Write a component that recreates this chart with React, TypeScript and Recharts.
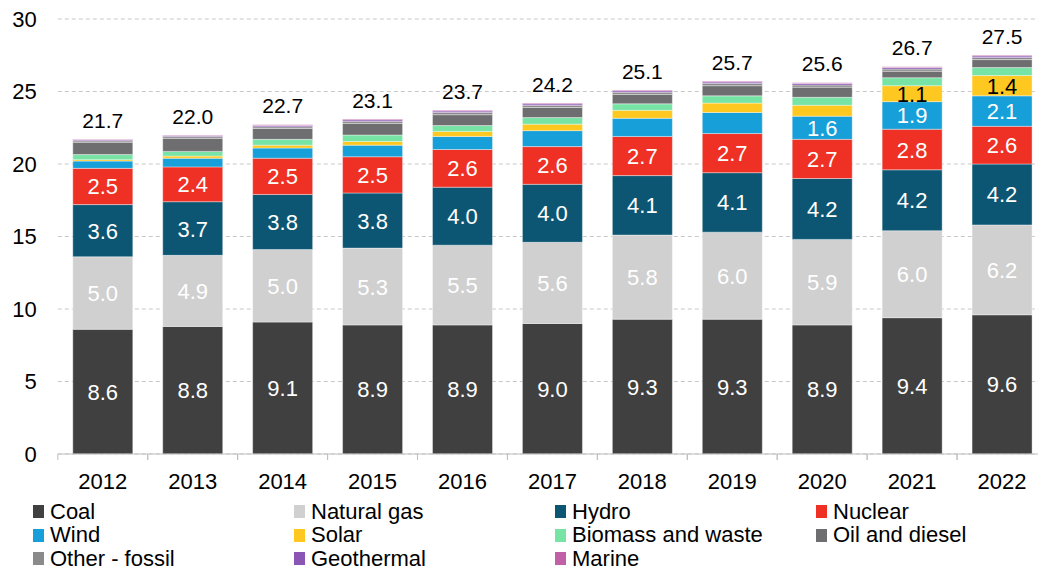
import { BarChart, Bar, XAxis, YAxis, CartesianGrid, LabelList } from "recharts";

const years = ["2012", "2013", "2014", "2015", "2016", "2017", "2018", "2019", "2020", "2021", "2022"];
const coal = [8.6, 8.8, 9.1, 8.9, 8.9, 9.0, 9.3, 9.3, 8.9, 9.4, 9.6];
const naturalGas = [5.0, 4.9, 5.0, 5.3, 5.5, 5.6, 5.8, 6.0, 5.9, 6.0, 6.2];
const hydro = [3.6, 3.7, 3.8, 3.8, 4.0, 4.0, 4.1, 4.1, 4.2, 4.2, 4.2];
const nuclear = [2.5, 2.4, 2.5, 2.5, 2.6, 2.6, 2.7, 2.7, 2.7, 2.8, 2.6];
const wind = [0.5, 0.6, 0.7, 0.8, 0.9, 1.1, 1.25, 1.45, 1.6, 1.9, 2.1];
const solar = [0.1, 0.15, 0.2, 0.25, 0.35, 0.45, 0.55, 0.65, 0.75, 1.1, 1.4];
const biomass = [0.35, 0.32, 0.4, 0.45, 0.4, 0.45, 0.45, 0.5, 0.55, 0.55, 0.55];
const oilDiesel = [0.85, 0.9, 0.75, 0.8, 0.75, 0.7, 0.65, 0.7, 0.7, 0.45, 0.55];
const otherFossil = [0.1, 0.12, 0.12, 0.15, 0.15, 0.15, 0.15, 0.15, 0.15, 0.15, 0.15];
const geothermal = [0.07, 0.08, 0.09, 0.1, 0.1, 0.1, 0.1, 0.1, 0.1, 0.1, 0.1];
const marine = [0.03, 0.03, 0.04, 0.05, 0.05, 0.05, 0.05, 0.05, 0.05, 0.05, 0.05];
const totals = [21.7, 22.0, 22.7, 23.1, 23.7, 24.2, 25.1, 25.7, 25.6, 26.7, 27.5];
const yTicks = [0, 5, 10, 15, 20, 25, 30];

const SERIES = [
  { key: "coal", name: "Coal", color: "#404040", values: coal },
  { key: "gas", name: "Natural gas", color: "#d0d0d0", values: naturalGas },
  { key: "hydro", name: "Hydro", color: "#0c5673", values: hydro },
  { key: "nuclear", name: "Nuclear", color: "#ee3124", values: nuclear },
  { key: "wind", name: "Wind", color: "#169fd9", values: wind },
  { key: "solar", name: "Solar", color: "#ffc820", values: solar },
  { key: "biomass", name: "Biomass and waste", color: "#77e3a4", values: biomass },
  { key: "oil", name: "Oil and diesel", color: "#6e6e70", values: oilDiesel },
  { key: "other", name: "Other - fossil", color: "#8a8a8a", values: otherFossil },
  { key: "geo", name: "Geothermal", color: "#8a55b5", values: geothermal },
  { key: "marine", name: "Marine", color: "#c060a6", values: marine },
];

// minimum value for an in-bar label per series
const LABEL_MIN: Record<string, number> = {
  coal: 0,
  gas: 0,
  hydro: 0,
  nuclear: 0,
  wind: 1.5,
  solar: 1.0,
};

const data = years.map((year, i) => {
  const row: any = { year, total: totals[i] };
  SERIES.forEach((s) => {
    row[s.key] = s.values[i];
  });
  return row;
});

const FONT = "'Liberation Sans', Arial, sans-serif";

const YearTick = (props: any) => {
  const { x, y, payload } = props;
  const half = payload && payload.offset ? payload.offset : 44.95;
  return (
    <g>
      <line x1={x - half} y1={y} x2={x - half} y2={y + 6} stroke="#bfbfbf" />
      <line x1={x + half} y1={y} x2={x + half} y2={y + 6} stroke="#bfbfbf" />
      <text x={x} y={y + 35} textAnchor="middle" fill="#000" fontSize={22} fontFamily={FONT}>
        {payload.value}
      </text>
    </g>
  );
};

const makeInnerLabel = (key: string, color: string) => (props: any) => {
  const { x, y, width, height, value } = props;
  if (value == null || value < (LABEL_MIN[key] ?? 99)) return null;
  return (
    <text
      x={x + width / 2}
      y={y + height / 2 + 8}
      textAnchor="middle"
      fill={color}
      fontSize={22}
      fontFamily={FONT}
    >
      {Number(value).toFixed(1)}
    </text>
  );
};

const TotalLabel = (props: any) => {
  const { x, y, width, index } = props;
  return (
    <text x={x + width / 2} y={y - 11.5} textAnchor="middle" fill="#000" fontSize={21} fontFamily={FONT}>
      {totals[index].toFixed(1)}
    </text>
  );
};

function ChartLegend() {
  return (
    <div
      style={{
        position: "absolute",
        left: 33,
        top: 500,
        display: "grid",
        gridTemplateColumns: "261px 261px 261px 220px",
        fontFamily: FONT,
        fontSize: 22,
        lineHeight: 1,
        color: "#000",
      }}
    >
      {SERIES.map((s) => (
        <div key={s.key} style={{ display: "flex", alignItems: "center", height: 23.5, whiteSpace: "nowrap" }}>
          <span style={{ width: 11, height: 13, background: s.color, display: "inline-block", marginRight: 6 }} />
          <span style={{ display: "inline-block", lineHeight: 1 }}>{s.name}</span>
        </div>
      ))}
    </div>
  );
}

export default function App() {
  return (
    <div
      style={{
        position: "fixed",
        left: 0,
        top: 0,
        width: 1038,
        height: 571,
        overflow: "hidden",
        background: "#fff",
      }}
    >
      <BarChart
        width={1047}
        height={571}
        data={data}
        margin={{ top: 19, right: 0, bottom: 87, left: 0 }}
        barSize={60}
      >
        <CartesianGrid vertical={false} stroke="#c8c8c8" strokeDasharray="4 3" />
        <XAxis
          dataKey="year"
          tick={<YearTick />}
          tickLine={false}
          tickSize={0}
          tickMargin={0}
          height={30}
          axisLine={{ stroke: "#bfbfbf" }}
          interval={0}
        />
        <YAxis
          domain={[0, 30]}
          ticks={yTicks}
          width={57.8}
          axisLine={false}
          tickLine={false}
          tickSize={6}
          tickMargin={15}
          tick={{ fill: "#000", fontSize: 22, fontFamily: FONT }}
        />
        {SERIES.map((s) => (
          <Bar
            key={s.key}
            dataKey={s.key}
            stackId="a"
            fill={s.color}
            stroke="#ffffff"
            strokeOpacity={0.5}
            strokeWidth={0.75}
            isAnimationActive={false}
          >
            {s.key in LABEL_MIN && (
              <LabelList dataKey={s.key} content={makeInnerLabel(s.key, s.key === "solar" ? "#000" : "#fff")} />
            )}
            {s.key === "marine" && <LabelList dataKey="total" content={<TotalLabel />} />}
          </Bar>
        ))}
      </BarChart>
      <ChartLegend />
    </div>
  );
}
